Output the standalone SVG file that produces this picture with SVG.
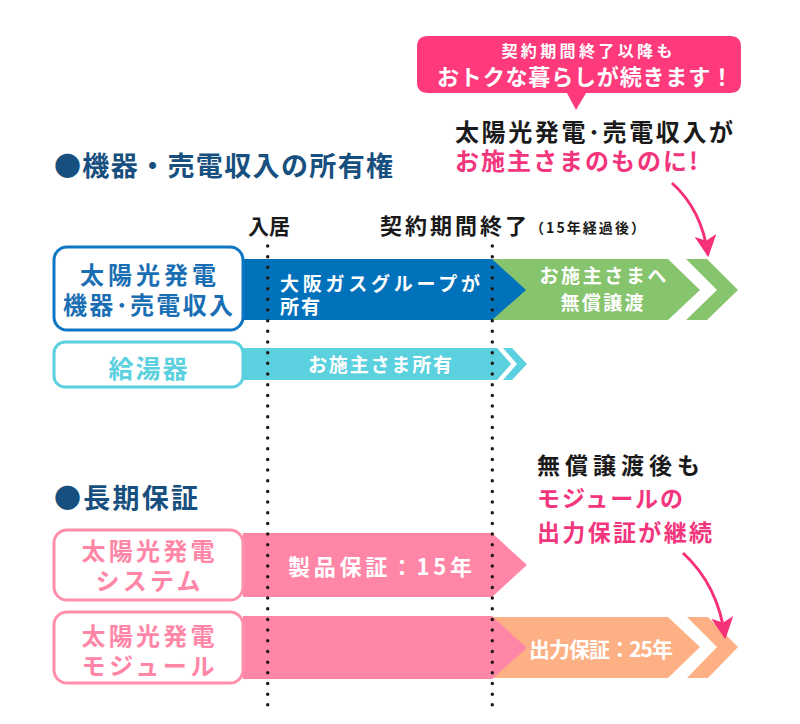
<svg xmlns="http://www.w3.org/2000/svg" width="800" height="724" viewBox="0 0 800 724">
<defs>
<style>
text{font-family:"Noto Sans CJK JP","Noto Sans",sans-serif;font-weight:700}
.w{fill:#fff}
.head{fill:#174f7e;font-size:27px}
.blk{fill:#1a1a1a}
.pk{fill:#f2357c}
.box{fill:#fff;stroke-width:3}
.dot{stroke:#231815;stroke-width:3.5;stroke-linecap:round;stroke-dasharray:0 10.67;fill:none}
.conn{fill:none;stroke:#f5317a;stroke-width:3}
</style>
<marker id="ah" viewBox="0 0 20 20" refX="18" refY="10" markerWidth="22" markerHeight="22" markerUnits="userSpaceOnUse" orient="auto">
<path d="M0,0 L20,10 L0,20 L5,10 Z" fill="#f5317a"/>
</marker>
</defs>
<rect width="800" height="724" fill="#fff"/>

<g id="callout">
<path d="M428,36 H730 Q741,36 741,47 V82 Q741,93 730,93 H586 L576,110 L567,93 H428 Q417,93 417,82 V47 Q417,36 428,36 Z" fill="#ff3a7c"/>
<text class="w" x="587" y="57" font-size="16" text-anchor="middle" textLength="171">契約期間終了以降も</text>
<text class="w" x="585" y="85" font-size="22" font-weight="500" text-anchor="middle" textLength="296">おトクな暮らしが続きます！</text>
</g>

<g id="note1">
<text class="blk" x="455" y="141" font-size="24" font-weight="500" textLength="278">太陽光発電･売電収入が</text>
<text class="pk" x="455" y="170" font-size="24" font-weight="500" textLength="243">お施主さまのものに!</text>
</g>

<g id="heading1"><text class="head" x="54" y="176" textLength="339">●機器・売電収入の所有権</text></g>
<g id="label-movein"><text class="blk" x="248" y="234" font-size="21" font-weight="500" textLength="42">入居</text></g>
<g id="label-end">
<text class="blk" x="380" y="234" font-size="22" font-weight="500" textLength="147">契約期間終了</text>
<text class="blk" x="530" y="233" font-size="14" font-weight="400" textLength="115">（15年経過後）</text>
</g>

<g id="bar-green">
<polygon points="492,259 668,259 700,290 668,320 492,320" fill="#87c46e"/>
<polygon points="686,259 707,259 738,290 707,320 686,320 717,290" fill="#87c46e"/>
<text class="w" x="603" y="283" font-size="19" text-anchor="middle" textLength="127">お施主さまへ</text>
<text class="w" x="602" y="310" font-size="19" text-anchor="middle" textLength="83">無償譲渡</text>
</g>
<g id="bar-blue">
<polygon points="243,259 492,259 526,290 492,320 243,320" fill="#0072bc"/>
<text class="w" x="280" y="291" font-size="19" textLength="200">大阪ガスグループが</text>
<text class="w" x="280" y="314" font-size="19" textLength="40">所有</text>
</g>
<g id="box-solar-equip">
<rect class="box" x="54" y="247" width="189" height="83" rx="13" stroke="#0e76c2"/>
<text x="148" y="284" font-size="24" fill="#1a6eb4" text-anchor="middle" textLength="136">太陽光発電</text>
<text x="148" y="314" font-size="24" fill="#1a6eb4" text-anchor="middle" textLength="170">機器･売電収入</text>
</g>

<g id="bar-cyan">
<polygon points="243,348 497,348 511,364 497,380 243,380" fill="#5bd0de"/>
<polygon points="503,348 512,348 527,364 512,380 503,380 517,364" fill="#5bd0de"/>
<text class="w" x="308" y="372" font-size="19" textLength="144">お施主さま所有</text>
</g>
<g id="box-waterheater">
<rect class="box" x="54" y="342" width="189" height="45" rx="11" stroke="#5bd0de"/>
<text x="148" y="378" font-size="25" fill="#5bd0de" text-anchor="middle" textLength="79">給湯器</text>
</g>

<g id="heading2"><text class="head" x="54" y="508" textLength="144">●長期保証</text></g>

<g id="note2">
<text class="blk" x="537" y="474" font-size="23" textLength="163">無償譲渡後も</text>
<text class="pk" x="537" y="507" font-size="23" textLength="146">モジュールの</text>
<text class="pk" x="537" y="541" font-size="23" textLength="175">出力保証が継続</text>
</g>

<g id="bar-system">
<polygon points="243,533 492,533 527,565 492,597 243,597" fill="#ff86a6"/>
<text class="w" x="288" y="575" font-size="22" textLength="184">製品保証：15年</text>
</g>
<g id="box-system">
<rect class="box" x="54" y="530" width="189" height="70" rx="13" stroke="#ff8fab"/>
<text x="148" y="560" font-size="24" fill="#ff86a6" text-anchor="middle" textLength="133">太陽光発電</text>
<text x="148" y="590" font-size="24" fill="#ff86a6" text-anchor="middle" textLength="105">システム</text>
</g>

<g id="bar-peach">
<polygon points="492,617 668,617 700,647 668,678 492,678" fill="#fdb083"/>
<polygon points="687,617 708,617 738,647 708,678 687,678 717,647" fill="#fdb083"/>
<text class="w" x="529" y="657" font-size="21" textLength="144">出力保証：25年</text>
</g>
<g id="bar-module">
<polygon points="243,616 492,616 527,648 492,679 243,679" fill="#ff86a6"/>
</g>
<g id="box-module">
<rect class="box" x="54" y="612" width="189" height="71" rx="13" stroke="#ff8fab"/>
<text x="148" y="645" font-size="24" fill="#ff86a6" text-anchor="middle" textLength="133">太陽光発電</text>
<text x="148" y="675" font-size="24" fill="#ff86a6" text-anchor="middle" textLength="133">モジュール</text>
</g>

<g id="connectors">
<line class="dot" x1="267.7" y1="246" x2="267.7" y2="706"/>
<line class="dot" x1="492.3" y1="246" x2="492.3" y2="706"/>
<path class="conn" d="M672,183 Q702,210 708,255" marker-end="url(#ah)"/>
<path class="conn" d="M683,553 Q718,585 725,637" marker-end="url(#ah)"/>
</g>
</svg>
